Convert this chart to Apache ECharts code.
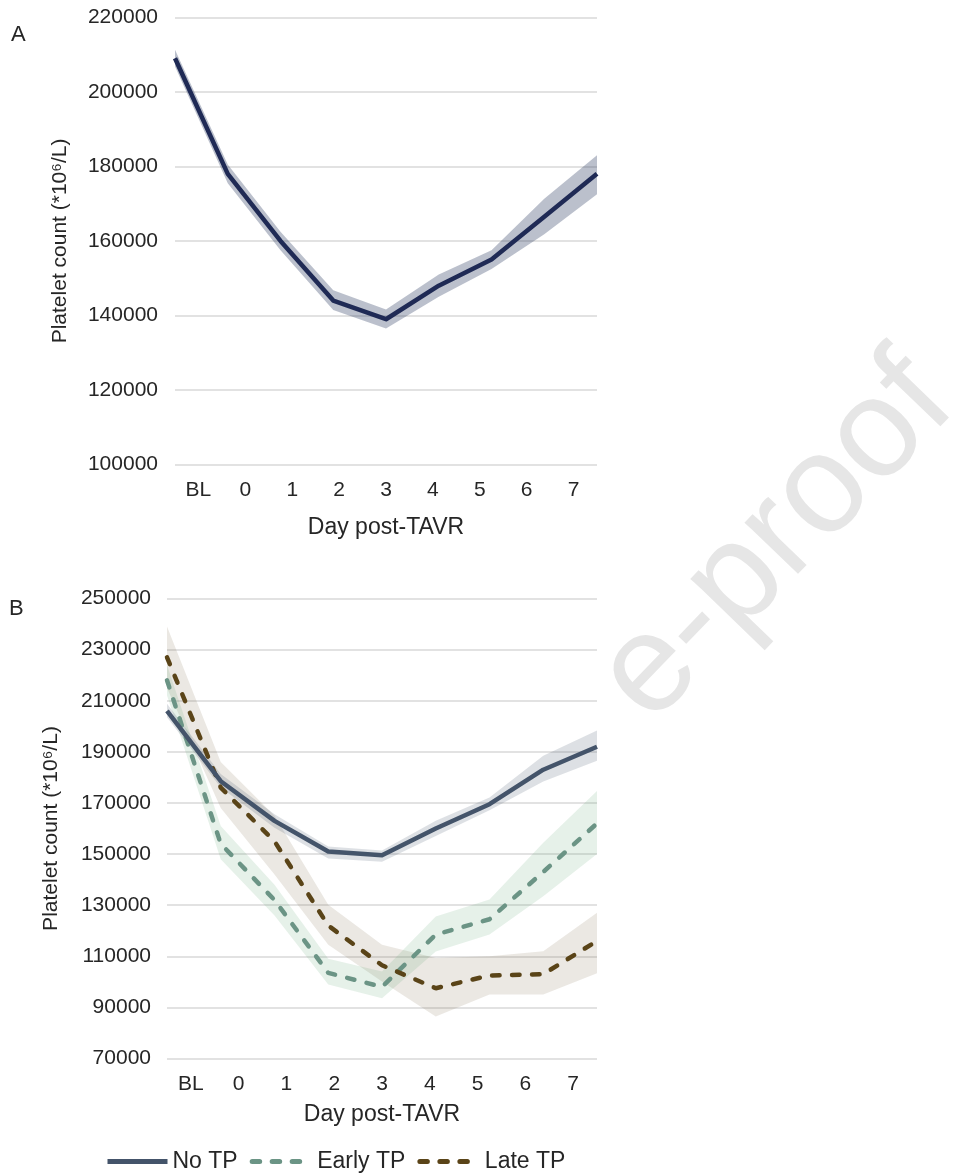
<!DOCTYPE html>
<html>
<head>
<meta charset="utf-8">
<script src="https://cdn.jsdelivr.net/npm/echarts@6/dist/echarts.min.js"></script>
<style>
html,body{margin:0;padding:0;background:#fff;}
#chart{width:965px;height:1173px;}
</style>
</head>
<body>
<div id="chart"></div>
<script>
// ---- data ----
var days = ['BL', '0', '1', '2', '3', '4', '5', '6', '7'];

// Panel A: all patients
var allMean = [209000, 178000, 160000, 144000, 139000, 148000, 155000, 166500, 178000];
var allLow  = [206800, 175500, 157500, 141500, 136500, 145000, 152500, 161800, 172500];
var allHigh = [211300, 180500, 162500, 146800, 141600, 151000, 157500, 171300, 183000];

// Panel B: by group
var noTP      = [206000, 178500, 163000, 151000, 149500, 160000, 169500, 183000, 192000];
var noTPLow   = [203500, 176000, 160300, 148300, 147000, 157100, 167100, 178400, 186500];
var noTPHigh  = [208800, 181300, 165600, 153000, 151400, 163000, 172100, 188500, 198300];

var earlyTP     = [218000, 154000, 132000, 103500, 98000, 118500, 124500, 143000, 162000];
var earlyTPLow  = [212000, 148000, 126000, 99000, 93600, 111900, 118500, 133500, 150000];
var earlyTPHigh = [224000, 161000, 138000, 109000, 104000, 125600, 132200, 154400, 174700];

var lateTP     = [227000, 176000, 155000, 122000, 106500, 97500, 102500, 103000, 116000];
var lateTPLow  = [215000, 168000, 142000, 114500, 100100, 86400, 95000, 95000, 103400];
var lateTPHigh = [239000, 186000, 165000, 130200, 114500, 109300, 110000, 112000, 127000];

var yTicksA = {min: 100000, max: 220000, interval: 20000};
var yTicksB = {min: 70000, max: 250000, interval: 20000};

// ---- helpers ----
var FONT = "'Liberation Sans', Arial, sans-serif";
var TXT = '#262626';
function diff(hi, lo) { return hi.map(function (v, i) { return v - lo[i]; }); }

function bandSeries(id, lo, hi, color, xi, yi) {
  return [
    {
      name: id + '-low', type: 'line', stack: id, data: lo,
      xAxisIndex: xi, yAxisIndex: yi, symbol: 'none', silent: true,
      lineStyle: {opacity: 0, width: 0}, z: 1
    },
    {
      name: id + '-band', type: 'line', stack: id, data: diff(hi, lo),
      xAxisIndex: xi, yAxisIndex: yi, symbol: 'none', silent: true,
      lineStyle: {opacity: 0, width: 0}, areaStyle: {color: color, opacity: 1}, z: 1
    }
  ];
}

function dataX(grid) {
  return {
    type: 'category', gridIndex: grid, data: days, boundaryGap: false, position: 'bottom',
    axisLine: {show: false}, axisTick: {show: false}, axisLabel: {show: false}, splitLine: {show: false}
  };
}
function labelX(grid, gap) {
  return {
    type: 'category', gridIndex: grid, data: days, boundaryGap: true, position: 'bottom',
    axisLine: {show: false}, axisTick: {show: false}, splitLine: {show: false},
    axisLabel: {color: TXT, fontSize: 21, fontFamily: FONT, margin: 15},
    name: 'Day post-TAVR', nameLocation: 'middle', nameGap: gap,
    nameTextStyle: {color: TXT, fontSize: 23, fontFamily: FONT}
  };
}
function valY(grid, t, gap, margin) {
  return {
    type: 'value', gridIndex: grid, min: t.min, max: t.max, interval: t.interval,
    axisLine: {show: false}, axisTick: {show: false},
    axisLabel: {color: TXT, fontSize: 21, fontFamily: FONT, margin: margin,
      formatter: function (v) { return String(v); }},
    splitLine: {lineStyle: {color: '#d9d9d9', width: 1.5}},
    name: 'Platelet count (*10\u2076/L)', nameLocation: 'middle', nameGap: gap,
    nameTextStyle: {color: TXT, fontSize: 21, fontFamily: FONT}
  };
}

var dashStyle = [7.5, 12.5];

var series = [];
series = series.concat(bandSeries('all', allLow, allHigh, 'rgba(31,45,85,0.3)', 0, 0));
series.push({
  name: 'All', type: 'line', data: allMean, xAxisIndex: 0, yAxisIndex: 0,
  symbol: 'none', lineStyle: {color: '#1f2a55', width: 4.5, join: 'round'}, z: 3
});
series = series.concat(bandSeries('late', lateTPLow, lateTPHigh, 'rgba(120,100,70,0.15)', 2, 1));
series = series.concat(bandSeries('early', earlyTPLow, earlyTPHigh, 'rgba(90,160,110,0.15)', 2, 1));
series = series.concat(bandSeries('no', noTPLow, noTPHigh, 'rgba(68,84,106,0.18)', 2, 1));
series.push({
  name: 'No TP', type: 'line', data: noTP, xAxisIndex: 2, yAxisIndex: 1,
  symbol: 'none', itemStyle: {color: '#44546a'},
  lineStyle: {color: '#44546a', width: 4.5, join: 'round'}, z: 4
});
series.push({
  name: 'Early TP', type: 'line', data: earlyTP, xAxisIndex: 2, yAxisIndex: 1,
  symbol: 'none', itemStyle: {color: '#6b9485'},
  lineStyle: {color: '#6b9485', width: 4.5, type: dashStyle, cap: 'round'}, z: 3
});
series.push({
  name: 'Late TP', type: 'line', data: lateTP, xAxisIndex: 2, yAxisIndex: 1,
  symbol: 'none', itemStyle: {color: '#5a4418'},
  lineStyle: {color: '#5a4418', width: 4.5, type: dashStyle, cap: 'round'}, z: 3
});

var chart = echarts.init(document.getElementById('chart'), null, {renderer: 'canvas'});
chart.setOption({
  animation: false,
  backgroundColor: '#ffffff',
  textStyle: {fontFamily: FONT},
  graphic: [
    {type: 'text', x: 777, y: 540, rotation: 46 * Math.PI / 180, z: -10, silent: true,
      style: {text: 'e-proof', font: "140px 'Liberation Sans', Arial, sans-serif",
        fill: '#e6e6e6', align: 'center', verticalAlign: 'middle'}},
    {type: 'text', x: 11, y: 24, style: {text: 'A', font: "22px 'Liberation Sans', Arial", fill: TXT}},
    {type: 'text', x: 9, y: 598, style: {text: 'B', font: "22px 'Liberation Sans', Arial", fill: TXT}}
  ],
  grid: [
    {left: 175, top: 17.3, width: 422, height: 447.3},
    {left: 167, top: 598.5, width: 430, height: 460}
  ],
  xAxis: [dataX(0), labelX(0, 52), dataX(1), labelX(1, 45)],
  yAxis: [valY(0, yTicksA, 104, 17), valY(1, yTicksB, 105, 16)],
  legend: {
    data: ['No TP', 'Early TP', 'Late TP'],
    left: 100, top: 1145, itemWidth: 60, itemHeight: 14, itemGap: 12,
    itemStyle: {opacity: 0},
    lineStyle: {width: 5},
    textStyle: {color: TXT, fontSize: 23, fontFamily: FONT}
  },
  series: series
});
</script>
</body>
</html>
